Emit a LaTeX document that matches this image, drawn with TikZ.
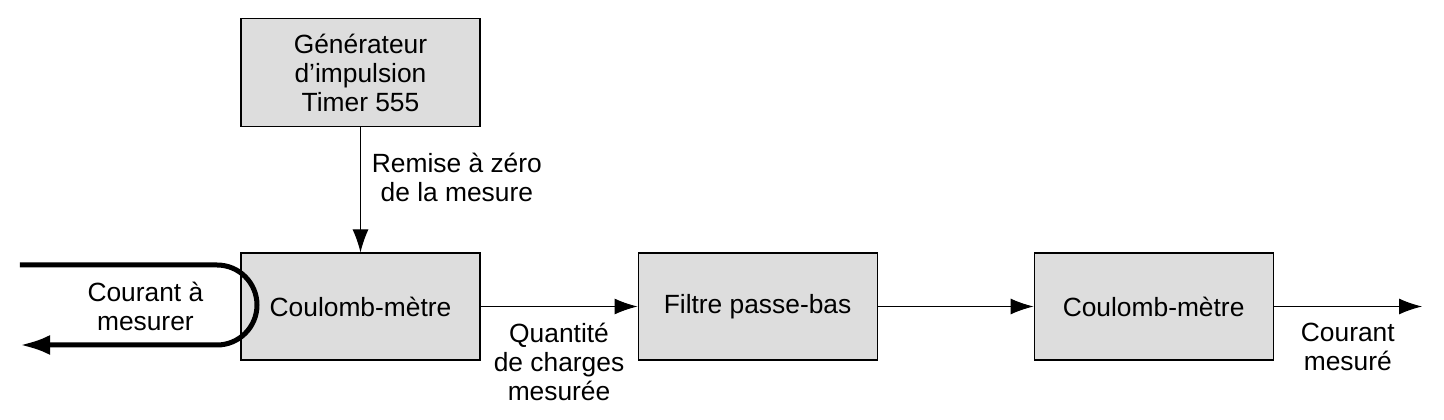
\documentclass[tikz,border=0pt]{standalone}
\usepackage{fontspec}
\setmainfont{Liberation Sans}
\usetikzlibrary{arrows.meta, positioning}
\definecolor{boxgray}{RGB}{221,221,221}

\begin{document}
\begin{tikzpicture}[font=\fontsize{15}{16.5}\selectfont, >={Latex[length=0.46cm, width=0.32cm]},
    block node/.style={rectangle, draw, fill=boxgray, line width=0.6pt, minimum width=4.78cm, minimum height=2.14cm, align=center},
    flow/.style={->, line width=0.6pt}, label node/.style={align=center}]
\useasboundingbox (0,0) rectangle (28.88,8.4);
\node[block node] (cm1) at (7.21,2.27) {Coulomb-mètre};
\node[block node, right=3.14cm of cm1] (filtre) {Filtre passe-bas};
\node[block node, right=3.12cm of filtre] (cm2) {Coulomb-mètre};
\node[block node, minimum height=2.16cm, above=2.5cm of cm1] (gen) {Générateur\\d’impulsion\\Timer 555};
\coordinate (out) at (28.44,2.27);
\coordinate (in) at (0.4,3.1);
\coordinate (back) at (0.4,1.5);

\draw[flow] (gen) -- (cm1) node[label node, right, pos=0.4, xshift=0.1cm]{Remise à zéro\\de la mesure};
\draw[flow] (cm1) -- (filtre) node[label node, below, midway, yshift=-0.2cm]{Quantité\\de charges\\mesurée};
\draw[flow] (filtre) -- (cm2);
\draw[flow] (cm2) -- (out) node[label node, below, midway, yshift=-0.2cm]{Courant\\mesuré};

% boucle du courant
\draw[line width=0.1cm, -{Latex[length=0.6cm, width=0.4cm]}] (in) -- (4.34,3.1) arc (90:-90:0.8) -- (back);
\node[label node, left=0.62cm of cm1] (courant) {Courant à\\mesurer};
\end{tikzpicture}
\end{document}
